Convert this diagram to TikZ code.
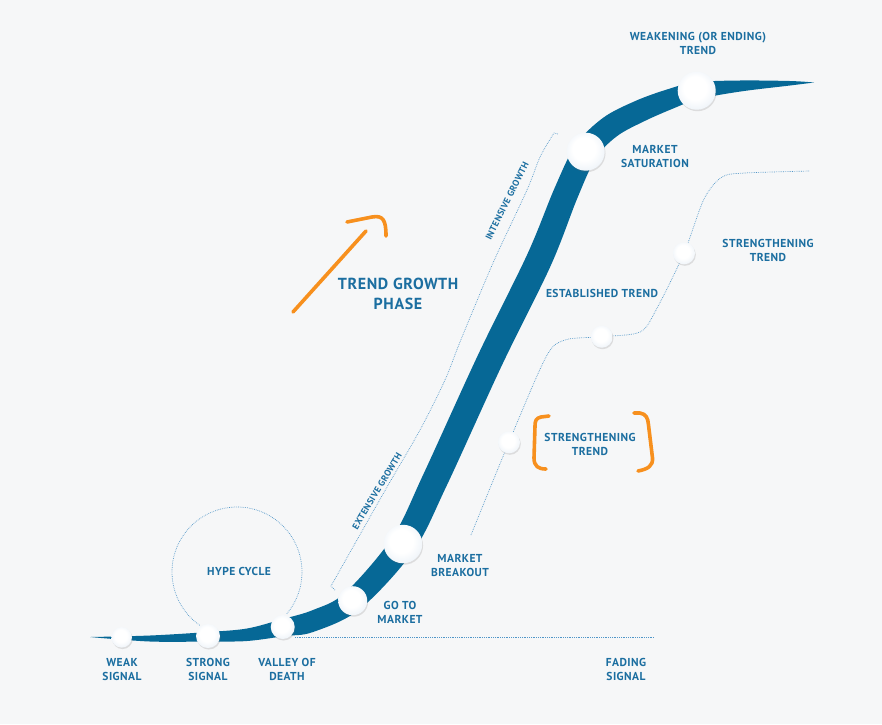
\documentclass[tikz,border=0pt]{standalone}
\usepackage{fontspec}
\setmainfont{PT Sans}[LetterSpace=4]
\usetikzlibrary{shadows}
\definecolor{bg}{RGB}{246,247,248}
\definecolor{band}{RGB}{6,104,150}
\definecolor{txt}{RGB}{27,110,160}
\definecolor{dotc}{RGB}{80,150,200}
\definecolor{orng}{RGB}{247,144,30}
\definecolor{ballmid}{RGB}{230,238,246}
\definecolor{ballrim}{RGB}{190,208,228}
\pgfdeclareradialshading{ballsh}{\pgfpoint{-3bp}{5bp}}{color(0bp)=(white); color(15bp)=(white); color(35bp)=(ballmid); color(47bp)=(ballrim); color(50bp)=(ballrim)}
\tikzset{
  lbl/.style={text=txt, font=\fontsize{11.5}{14}\selectfont\bfseries, align=center, inner sep=0pt},
  biglbl/.style={text=txt, font=\fontsize{16}{20}\selectfont\bfseries, align=center, inner sep=0pt},
  rotlbl/.style={text=txt, font=\fontsize{9.2}{10}\selectfont\bfseries, inner sep=0pt},
  ball/.style={circle, shading=ballsh, minimum size=#1, inner sep=0pt,
    drop shadow={shadow xshift=0.8pt, shadow yshift=-1.5pt, opacity=0.18, fill=black!60}},
  dotl/.style={draw=dotc, line width=0.7pt, dash pattern=on 0.7pt off 1.1pt},
  orange/.style={draw=orng, line width=3.6pt, line cap=round, line join=round},
}
\begin{document}
\begin{tikzpicture}[x=1pt,y=-1pt]
\useasboundingbox (0,0) rectangle (882,724);
\fill[bg] (0,0) rectangle (882,724);

% dotted guide lines
\draw[dotl] (237,572) ++(125:65) arc[start angle=125, end angle=400, radius=65];
\coordinate (hl1) at (295,637);
\coordinate (hl2) at (654,637);
\draw[dotl] (hl1) -- (hl2);
\draw[dotl] (335,590) -- plot[smooth, tension=0.5] coordinates {(331,586) (353,547) (387,487) (420,430) (445,380) (460,342) (493,263) (527,190) (540,157) (554,133)} -- (558,134);
\draw[dotl] plot[smooth, tension=0.5] coordinates {(471,535) (509,442) (546,357) (565,340) (601.7,336.7) (640,332) (656,310) (684,253) (704,199) (722,177) (745,173) (810,171)};

% main band
\fill[band] plot[smooth, tension=0.55] coordinates {(90,637) (150,635.5) (208,632) (247,628.5) (281,619.5) (313,610) (345.4,592.5) (392.6,537.1) (423.4,474.2) (478.3,354.3) (527.3,254.3) (554.7,187.8) (575.7,145) (603.1,117.8) (635.3,101) (666.6,89.6) (695.1,82.3) (739.5,80.5) (790,81) (814,82.5)}
 -- plot[smooth, tension=0.55] coordinates {(814,82.5) (790,85.5) (740.5,91.5) (698.3,99.1) (673.4,108.4) (644.7,121) (616.9,136.2) (595.7,158.4) (577.3,198.2) (550.7,265.7) (501.7,365.7) (446.6,485.8) (413.4,550.9) (360,609) (313,632) (285,636) (247,641) (208,641.5) (150,641.5) (90,637)} -- cycle;

% balls
\node[ball=20.5pt] (weak) at (121.7,637.3) {};
\node[ball=24pt] (strong) at (208,636) {};
\node[ball=24pt] (valley) at (282.7,627) {};
\node[ball=29pt] (gomkt) at (352.7,600.7) {};
\node[ball=38.5pt] (breakout) at (403,544) {};
\node[ball=38pt] (satur) at (585.7,151.7) {};
\node[ball=38pt] (weaken) at (696.7,90.7) {};
\node[ball=22pt] (s1) at (509,442.3) {};
\node[ball=22pt] (s2) at (601.7,336.7) {};
\node[ball=22pt] (s3) at (684,253.3) {};

% labels
\node[lbl] (tweaken) at (698,43) {WEAKENING (OR ENDING)\\TREND};
\node[lbl] (tsatur) at (655,156) {MARKET\\SATURATION};
\node[biglbl] (tphase) at (398,294) {TREND GROWTH\\PHASE};
\node[lbl] (testab) at (602,293) {ESTABLISHED TREND};
\node[lbl] (tstr1) at (768,250) {STRENGTHENING\\TREND};
\node[lbl] (tstr2) at (590,444) {STRENGTHENING\\TREND};
\node[lbl] (tbreak) at (460,565) {MARKET\\BREAKOUT};
\node[lbl] (tgo) at (400,612.5) {GO TO\\MARKET};
\node[lbl] (thype) at (239,571) {HYPE CYCLE};
\node[lbl] (tweak) at (122,669.5) {WEAK\\SIGNAL};
\node[lbl] (tstrong) at (208,669.5) {STRONG\\SIGNAL};
\node[lbl] (tvalley) at (287,669.5) {VALLEY OF\\DEATH};
\node[lbl] (tfade) at (626,669) {FADING\\SIGNAL};
\node[rotlbl, rotate=59] (text) at (377,491) {EXTENSIVE GROWTH};
\node[rotlbl, rotate=63.5] (tint) at (507,201) {INTENSIVE GROWTH};

% orange annotations
\draw[orange] (293,312) -- (366,231);
\draw[orange] (347,222) -- (372,217) .. controls (383,215) and (386,220) .. (386,236);
\draw[orange] (549,416) -- (541,417) .. controls (536,418) and (535,421) .. (535,426) -- (534,458) .. controls (534,466) and (538,469) .. (546,469);
\draw[orange] (634,413) -- (640,413) .. controls (646,414) and (648,418) .. (648.5,425) -- (652.5,458) .. controls (653,466) and (648,469) .. (638,471);
\end{tikzpicture}
\end{document}
